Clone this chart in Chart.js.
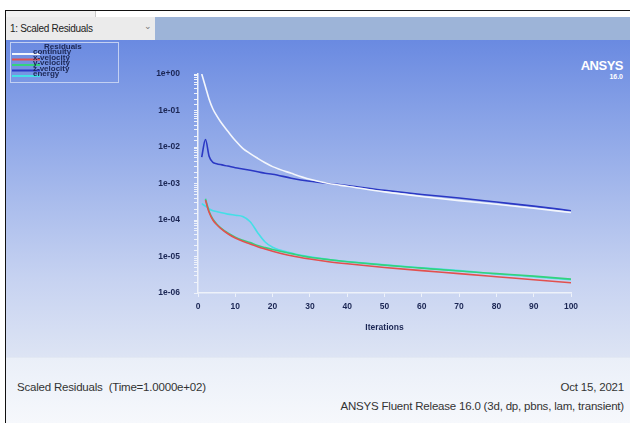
<!DOCTYPE html>
<html>
<head>
<meta charset="utf-8">
<title>Scaled Residuals</title>
<script src="https://cdn.jsdelivr.net/npm/chart.js@4.4.1/dist/chart.umd.min.js"></script>
<style>
    html, body { margin: 0; padding: 0; background: #fff; }
    #page { position: relative; width: 630px; height: 423px; overflow: hidden; font-family: "Liberation Sans", Arial, sans-serif; }
    #frame { position: absolute; left: 5px; top: 10px; right: 0; bottom: 0; border-left: 1px solid #111; border-top: 1px solid #111; }
    #tab { position: absolute; left: 6px; top: 11px; width: 89px; height: 6px; background: #f1f1f1; border-right: 1px solid #c8c8c8; }
    #bar { position: absolute; left: 6px; top: 17px; right: 0; height: 23px; background: #9db4d8; }
    #dropdown { position: absolute; left: 6px; top: 17px; width: 149px; height: 23px; background: #ebebeb;
        font-size: 10px; color: #222; line-height: 23px; padding-left: 4px; box-sizing: border-box; letter-spacing: -0.3px; }
    #dropdown span { position: absolute; left: 138px; top: -2px; color: #777; font-size: 9px; }
    #plotbg { position: absolute; left: 6px; top: 40px; right: 0; height: 317px;
        background: linear-gradient(to bottom, #6a8ae1 0%, #89a3e7 25%, #a8bbec 50%, #c6d2f1 75%, #dde4f4 100%); }
    #footer { position: absolute; left: 6px; top: 357px; right: 0; bottom: 0;
        background: linear-gradient(to bottom, #eaeff8 0%, #f6f8fc 100%); border-top: 1px solid #e2e8f3; }
    .ftxt { position: absolute; font-size: 11.5px; color: #333; white-space: nowrap; letter-spacing: -0.2px; }
    #logo { position: absolute; right: 7px; top: 59px; color: #fff; font-weight: bold; font-size: 13px; text-align: right;
        font-family: "Liberation Sans", sans-serif; line-height: 13px; letter-spacing: -0.5px; }
    #logo small { display: block; font-size: 7px; line-height: 9px; letter-spacing: 0; }
    #chart { position: absolute; left: 0; top: 0; }
</style>
</head>
<body>
<div id="page">
    <div id="frame"></div>
    <div id="tab"></div>
    <div id="bar"></div>
    <div id="dropdown">1: Scaled Residuals<span>&#8964;</span></div>
    <div id="plotbg"></div>
    <div id="footer"></div>
    <div class="ftxt" style="left:17px; top:381px;">Scaled Residuals&nbsp; (Time=1.0000e+02)</div>
    <div class="ftxt" style="right:6px; top:381px;">Oct 15, 2021</div>
    <div class="ftxt" style="right:6px; top:400px;">ANSYS Fluent Release 16.0 (3d, dp, pbns, lam, transient)</div>
    <div id="logo">ANSYS<small>16.0</small></div>
    <canvas id="chart" width="630" height="423"></canvas>
</div>
<script>
const iterations = [1, 2, 3, 4, 5, 6, 8, 10, 12, 14, 16, 18, 20, 25, 30, 35, 40, 50, 60, 70, 80, 90, 100];

const seriesNames = ['continuity', 'x-velocity', 'y-velocity', 'z-velocity', 'energy'];
const seriesColors = ['#f3f6fc', '#e2504e', '#34d27e', '#2b38c4', '#44dfe6'];

const continuity = [1.0, 0.45, 0.2, 0.11, 0.072, 0.05, 0.027, 0.015, 0.0092, 0.0066, 0.0049, 0.0037, 0.0029,
    0.0019, 0.0013, 0.001, 0.00084, 0.00059, 0.00044, 0.00034, 0.00027, 0.00021, 0.00016];
const xVelocity = [null, 3.5e-4, 1.6e-4, 1.0e-4, 7.5e-5, 6.0e-5, 4.2e-5, 3.2e-5, 2.6e-5, 2.2e-5, 1.85e-5, 1.6e-5, 1.4e-5,
    1.05e-5, 8.5e-6, 7.2e-6, 6.3e-6, 5.0e-6, 4.1e-6, 3.4e-6, 2.8e-6, 2.3e-6, 1.9e-6];
const yVelocity = [null, 3.8e-4, 1.7e-4, 1.05e-4, 7.8e-5, 6.2e-5, 4.4e-5, 3.4e-5, 2.8e-5, 2.4e-5, 2.0e-5, 1.75e-5, 1.55e-5,
    1.2e-5, 9.5e-6, 8.2e-6, 7.2e-6, 5.8e-6, 4.8e-6, 4.0e-6, 3.4e-6, 2.9e-6, 2.4e-6];
const zVelocity = [0.0053, 0.016, 0.0055, 0.0038, 0.0035, 0.0033, 0.003, 0.0027, 0.0025, 0.0023, 0.0021, 0.0019, 0.0018,
    0.0014, 0.00115, 0.001, 0.00088, 0.00065, 0.0005, 0.0004, 0.00031, 0.00024, 0.00018];
const energy = [2.8e-4, 2.4e-4, 2.0e-4, 1.8e-4, 1.7e-4, 1.6e-4, 1.45e-4, 1.35e-4, 1.25e-4, 9.0e-5, 4.5e-5, 2.5e-5, 1.8e-5,
    1.25e-5, 9.8e-6, 8.3e-6, 7.3e-6, 5.9e-6, 4.9e-6, 4.1e-6, 3.3e-6, 2.8e-6, 2.3e-6];

const xTickStep = 10;
const yDecades = [1e-6, 1e-5, 1e-4, 1e-3, 1e-2, 1e-1, 1];

const allSeries = [continuity, xVelocity, yVelocity, zVelocity, energy];
const tickFont = { family: '"Liberation Sans", Arial, sans-serif', size: 8.5, weight: 'bold' };
const axisColor = '#eef2fa';
const labelColor = '#1b2654';

function decadeLabel(v) {
    const e = Math.round(Math.log10(v));
    if (Math.abs(Math.log10(v) - e) > 1e-6) return '';
    const a = Math.abs(e);
    return '1e' + (e < 0 ? '-' : '+') + (a < 10 ? '0' + a : a);
}

// Small crowded legend box in the top-left corner, like Fluent draws it
const residualLegend = {
    id: 'residualLegend',
    afterDraw(chart) {
        const ctx = chart.ctx;
        ctx.save();
        ctx.strokeStyle = '#c3d0f2';
        ctx.lineWidth = 1;
        ctx.strokeRect(10.5, 42.5, 108, 40);
        ctx.fillStyle = labelColor;
        ctx.font = 'bold 8px "Liberation Sans", sans-serif';
        ctx.textBaseline = 'middle';
        ctx.fillText('Residuals', 44, 47);
        chart.data.datasets.forEach((ds, i) => {
            const y = 54 + i * 5.5;
            ctx.strokeStyle = ds.borderColor;
            ctx.lineWidth = 2;
            ctx.beginPath();
            ctx.moveTo(12, y);
            ctx.lineTo(40, y);
            ctx.stroke();
            ctx.fillStyle = labelColor;
            ctx.fillText(ds.label, 33, y - 2);
        });
        ctx.restore();
    }
};

const ctx = document.getElementById('chart').getContext('2d');
new Chart(ctx, {
    type: 'line',
    data: {
        datasets: allSeries.map((arr, i) => ({
            label: seriesNames[i],
            data: iterations.map((x, j) => ({ x: x, y: arr[j] })),
            borderColor: seriesColors[i],
            backgroundColor: seriesColors[i],
            borderWidth: 1.6,
            pointRadius: 0,
            cubicInterpolationMode: 'monotone',
            fill: false
        }))
    },
    options: {
        responsive: false,
        animation: false,
        devicePixelRatio: 1,
        layout: { padding: { left: 150, top: 74, right: 59, bottom: 88 } },
        plugins: {
            legend: { display: false },
            tooltip: { enabled: false }
        },
        scales: {
            x: {
                type: 'linear',
                min: 0,
                max: 100,
                border: { color: axisColor, width: 1.5 },
                grid: { drawOnChartArea: false, color: axisColor, tickLength: 4 },
                ticks: { stepSize: xTickStep, color: labelColor, font: tickFont, padding: 5, maxRotation: 0 },
                title: { display: true, text: 'Iterations', color: labelColor, font: tickFont, padding: { top: 2, bottom: 2 } },
                afterFit(scale) { scale.height = 42; }
            },
            y: {
                type: 'logarithmic',
                min: yDecades[0],
                max: yDecades[yDecades.length - 1],
                border: { color: axisColor, width: 1.5 },
                grid: { drawOnChartArea: false, color: axisColor, tickLength: 4 },
                ticks: {
                    autoSkip: false,
                    color: labelColor,
                    font: tickFont,
                    padding: 14,
                    callback: value => decadeLabel(value)
                },
                afterFit(scale) { scale.width = 48; }
            }
        }
    },
    plugins: [residualLegend]
});
</script>
</body>
</html>
